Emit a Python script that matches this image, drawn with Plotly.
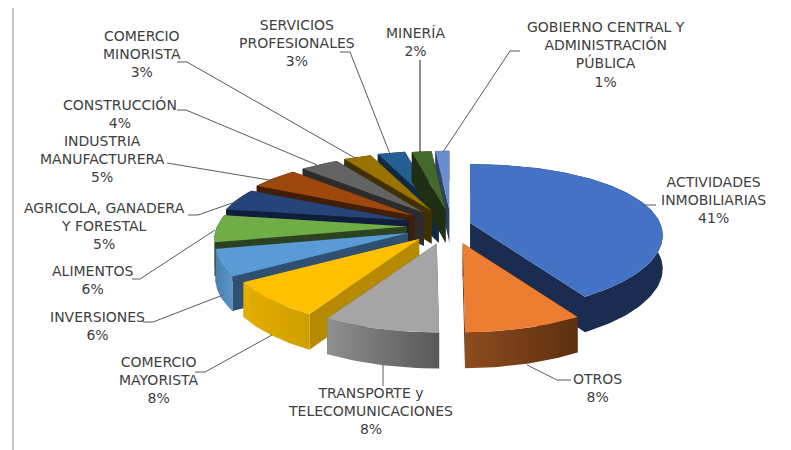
import math
import plotly.graph_objects as go

# ---- data ----
categories = ["ACTIVIDADES<br>INMOBILIARIAS", "OTROS", "TRANSPORTE y<br>TELECOMUNICACIONES",
              "COMERCIO<br>MAYORISTA", "INVERSIONES", "ALIMENTOS",
              "AGRICOLA, GANADERA<br>Y FORESTAL", "INDUSTRIA<br>MANUFACTURERA", "CONSTRUCCIÓN",
              "COMERCIO<br>MINORISTA", "SERVICIOS<br>PROFESIONALES", "MINERÍA",
              "GOBIERNO CENTRAL Y<br>ADMINISTRACIÓN<br>PÚBLICA"]
values = [41, 8, 8, 8, 6, 6, 5, 5, 4, 3, 3, 2, 1]

# ---- styling / layout ----
top_colors = ["#4472C4", "#ED7D31", "#A5A5A5", "#FFC000", "#5B9BD5", "#70AD47", "#264478",
              "#9E480E", "#636363", "#997300", "#255E91", "#43682B", "#698ED0"]
radial_colors = ["#1A2C50", "#5C3010", "#555555", "#B58900", "#2F5070", "#2B4320", "#0F1E3A",
                 "#421E06", "#2C2C2C", "#423100", "#102A40", "#1E2F13", "#2F4060"]
wall_grad = [("#1A2C50", "#1A2C50"), ("#8E4B1F", "#5C3010"), ("#8F8F8F", "#585858"),
             ("#E3AD00", "#D09E00"), ("#4A7FB0", "#5B93C8"), ("#2B4320", "#2B4320"),
             ("#0F1E3A", "#0F1E3A"), ("#421E06", "#421E06"), ("#2C2C2C", "#2C2C2C"),
             ("#423100", "#423100"), ("#102A40", "#102A40"), ("#1E2F13", "#1E2F13"),
             ("#2F4060", "#2F4060")]
explode_x = [0.6, 1.4, 1, 1, 1.05, 1.0, 1, 1, 0.95, 0.95, 0.95, 0.9, 0.9]
explode_y = [0.6, 1.0, 1, 1, 1.05, 1.0, 1, 1, 0.95, 0.95, 0.95, 0.9, 0.9]
nudge_x = [0, 0, 0, 0, 0, 0, 0, 0, 1, 2, 3, 4, 4]
CX, CY, EX, EY = 447, 226, 40, 18
RX, P, RY, RYQ = 190, 0.17, 74, 15
# small perspective correction of the angular position, by cumulative share
warp_pct = [0, 41, 49, 57, 65, 71, 91, 97, 99, 100]
warp_deg = [0, 0.5, 3, 5, 4, 2.5, 0, -1.5, -1.5, 0]

label_pos = [(713, 200), (597, 388), (370, 411), (159, 380), (97, 326), (92, 280), (104, 226),
             (102, 159), (120, 113), (142, 54), (297, 43), (415, 42), (606, 54)]
leaders = [[(643, 205), (656, 205)],
           [(527, 365), (557, 380), (571, 380)],
           [(383, 365), (383, 386)],
           [(272, 335), (205, 372), (195, 372)],
           [(223, 295), (153, 322), (143, 322)],
           [(215, 230), (140, 279), (132, 279)],
           [(238, 201), (198, 215), (188, 215)],
           [(275, 181), (167, 163)],
           [(317, 165), (186, 110), (177, 110)],
           [(355, 158), (187, 62), (177, 62)],
           [(390, 154), (350, 52), (340, 52)],
           [(443, 152), (510, 51), (520, 51)]]
mineria_leader = [(420, 152), (420, 60)]


def angle(pct):
    for k in range(len(warp_pct) - 1):
        if pct <= warp_pct[k + 1]:
            f = (pct - warp_pct[k]) / (warp_pct[k + 1] - warp_pct[k])
            extra = warp_deg[k] + f * (warp_deg[k + 1] - warp_deg[k])
            return math.radians(pct * 3.6 + extra)
    return math.radians(pct * 3.6)


def project(ax, ay, theta):
    u, v = math.sin(theta), -math.cos(theta)
    return ax + RX * u * (1 + P * v), ay + RY * v + RYQ * v * v


def depth(theta):
    return 33 - 3 * math.cos(theta)


fig = go.Figure()


def poly(xs, ys, color=None, grad=None):
    kw = dict(x=xs, y=ys, mode="lines", line=dict(width=0), fill="toself",
              hoverinfo="skip", showlegend=False)
    if grad and grad[0] != grad[1]:
        kw["fillgradient"] = dict(type="horizontal", colorscale=[[0, grad[0]], [1, grad[1]]])
    else:
        kw["fillcolor"] = color or grad[0]
    fig.add_trace(go.Scatter(**kw))


total = sum(values)
slices = []
cum = 0
for i, val in enumerate(values):
    a0 = angle(cum / total * 100)
    cum += val
    a1 = angle(cum / total * 100)
    mid = (a0 + a1) / 2
    ax = CX + EX * explode_x[i] * math.sin(mid) + nudge_x[i]
    ay = CY - EY * explode_y[i] * math.cos(mid)
    slices.append((ay, i, a0, a1, ax))

for ay, i, a0, a1, ax in sorted(slices):
    n = max(4, int((a1 - a0) * 40))
    angles = [a0 + (a1 - a0) * k / n for k in range(n + 1)]
    arc = [project(ax, ay, t) for t in angles]
    dmid = 33
    # radial faces
    for t, pt in ((a0, arc[0]), (a1, arc[-1])):
        d = depth(t)
        poly([ax, pt[0], pt[0], ax, ax], [ay, pt[1], pt[1] + d, ay + dmid, ay],
             color=radial_colors[i])
    # outer wall
    low = [(p[0], p[1] + depth(t)) for p, t in zip(arc, angles)]
    ring = arc + low[::-1] + [arc[0]]
    poly([p[0] for p in ring], [p[1] for p in ring], grad=wall_grad[i])
    # top face
    top = [(ax, ay)] + arc + [(ax, ay)]
    poly([p[0] for p in top], [p[1] for p in top], color=top_colors[i])

# leader lines
for pts in leaders:
    fig.add_trace(go.Scatter(x=[p[0] for p in pts], y=[p[1] for p in pts], mode="lines",
                             line=dict(color="#595959", width=1), hoverinfo="skip",
                             showlegend=False))
fig.add_trace(go.Scatter(x=[p[0] for p in mineria_leader], y=[p[1] for p in mineria_leader],
                         mode="lines", line=dict(color="#1A1A1A", width=1), hoverinfo="skip",
                         showlegend=False))

# data labels
for cat, val, (lx, ly) in zip(categories, values, label_pos):
    fig.add_annotation(x=lx, y=ly, text=f"{cat}<br>{val}%", showarrow=False, xanchor="center",
                       yanchor="middle", align="center",
                       font=dict(family="DejaVu Sans", size=14, color="#404040"))

fig.update_layout(
    width=791, height=450, margin=dict(l=0, r=0, t=0, b=0),
    paper_bgcolor="white", plot_bgcolor="white", showlegend=False,
    xaxis=dict(range=[0, 791], visible=False, fixedrange=True),
    yaxis=dict(range=[450, 0], visible=False, fixedrange=True),
    shapes=[dict(type="line", x0=13, x1=13, y0=8, y1=450, line=dict(color="#8C8C8C", width=1))],
)
fig.write_html("out.html", config=dict(displayModeBar=False),
               post_script="document.body.style.margin='0';")
